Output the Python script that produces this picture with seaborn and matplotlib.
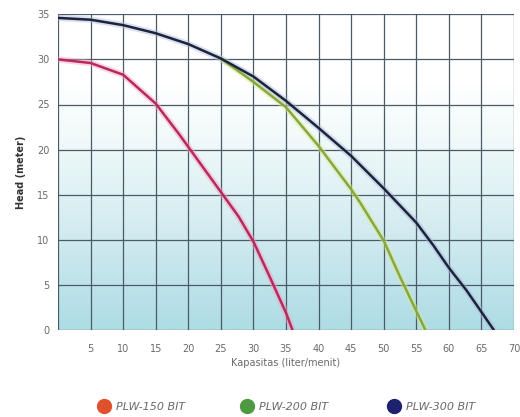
import numpy as np
import pandas as pd
import matplotlib
matplotlib.use("Agg")
import matplotlib.pyplot as plt
from matplotlib.lines import Line2D
from matplotlib.colors import LinearSegmentedColormap
import seaborn as sns

# ---- data ----
series_names = ["PLW-150 BIT", "PLW-200 BIT", "PLW-300 BIT"]

q_150 = [0, 5, 10, 15, 18.7, 20, 25, 27.7, 30, 32.5, 35, 36.0]
h_150 = [30.0, 29.6, 28.3, 25.1, 21.6, 20.3, 15.3, 12.6, 9.8, 5.9, 1.9, 0.0]

q_200 = [25, 30, 35, 40, 45, 46.4, 50, 52.5, 55, 56.4]
h_200 = [30.1, 27.5, 24.7, 20.4, 15.6, 14.1, 9.9, 5.9, 2.1, 0.0]

q_300 = [0, 5, 10, 15, 20, 25, 30, 35, 40, 45, 50, 55, 57.6, 60, 62.7, 65, 66.9]
h_300 = [34.6, 34.4, 33.8, 32.9, 31.7, 30.1, 28.1, 25.4, 22.4, 19.3, 15.7, 11.9, 9.4, 6.9, 4.4, 2.0, 0.0]

x_ticks = [5, 10, 15, 20, 25, 30, 35, 40, 45, 50, 55, 60, 65, 70]
y_ticks = [0, 5, 10, 15, 20, 25, 30, 35]

line_colors = {"PLW-150 BIT": "#b82a5e", "PLW-200 BIT": "#86a83e", "PLW-300 BIT": "#1c2438"}
glow_colors = {"PLW-150 BIT": "#f4a0be", "PLW-200 BIT": "#dbe98a", "PLW-300 BIT": "#aab4e0"}
legend_colors = ["#e0502c", "#4f9a40", "#1e2070"]
legend_x = [106.7, 250, 396.7]

df = pd.concat([
    pd.DataFrame({"q": q_150, "h": h_150, "pump": series_names[0]}),
    pd.DataFrame({"q": q_200, "h": h_200, "pump": series_names[1]}),
    pd.DataFrame({"q": q_300, "h": h_300, "pump": series_names[2]}),
], ignore_index=True)

sns.set_style("white")
plt.rcParams["font.family"] = ["DejaVu Sans"]

fig = plt.figure(figsize=(5.2, 4.17), dpi=100)
ax = fig.add_axes([58 / 520, 1 - 330 / 417, (514 - 58) / 520, (330 - 14.3) / 417])

# background gradient (white top -> light cyan bottom)
cmap = LinearSegmentedColormap.from_list(
    "bg", [(0.0, "#aedce5"), (0.15, "#bfe3ea"), (0.4, "#dcf0f3"), (0.62, "#f2fafa"),
           (0.78, "#ffffff"), (1.0, "#ffffff")])
grad = np.linspace(0, 1, 256).reshape(-1, 1)
ax.imshow(grad, cmap=cmap, origin="lower", aspect="auto",
          extent=[0, 70, 0, 35], zorder=0)

# grid
for xv in [0] + x_ticks:
    ax.axvline(xv, color="#4a5a66", lw=0.9, zorder=1)
for yv in y_ticks:
    ax.axhline(yv, color="#4a5a66", lw=0.9, zorder=1)

# glows
sns.lineplot(data=df, x="q", y="h", hue="pump", palette=glow_colors, lw=4.5,
             alpha=0.45, sort=False, estimator=None, legend=False, ax=ax, zorder=2)
# main curves
sns.lineplot(data=df, x="q", y="h", hue="pump", palette=line_colors, lw=1.8,
             sort=False, estimator=None, legend=False, ax=ax, zorder=3)

ax.set_xlim(0, 70)
ax.set_ylim(0, 35)
ax.set_xticks(x_ticks)
ax.set_yticks(y_ticks)
ax.tick_params(axis="both", length=0, labelsize=7, colors="#6a6a6a")
ax.tick_params(axis="x", pad=10)
ax.tick_params(axis="y", pad=6)
for s in ax.spines.values():
    s.set_visible(False)

ax.set_xlabel("Kapasitas (liter/menit)", fontsize=7, color="#6a6a6a", labelpad=3)
ax.set_ylabel("Head (meter)", fontsize=7, color="#333333", fontweight="bold", labelpad=8)

for name, c, lx in zip(series_names, legend_colors, legend_x):
    h = Line2D([0], [0], marker="o", linestyle="none", markersize=10,
               markerfacecolor=c, markeredgecolor=c)
    leg = fig.legend([h], [name], loc="center left",
                     bbox_to_anchor=((lx - 14) / 520, 1 - 406.5 / 417),
                     frameon=False, handletextpad=0.1, borderpad=0, borderaxespad=0,
                     prop={"style": "italic", "size": 8})
    for t in leg.get_texts():
        t.set_color("#6a6a6a")

fig.savefig("out.png", dpi=100)
